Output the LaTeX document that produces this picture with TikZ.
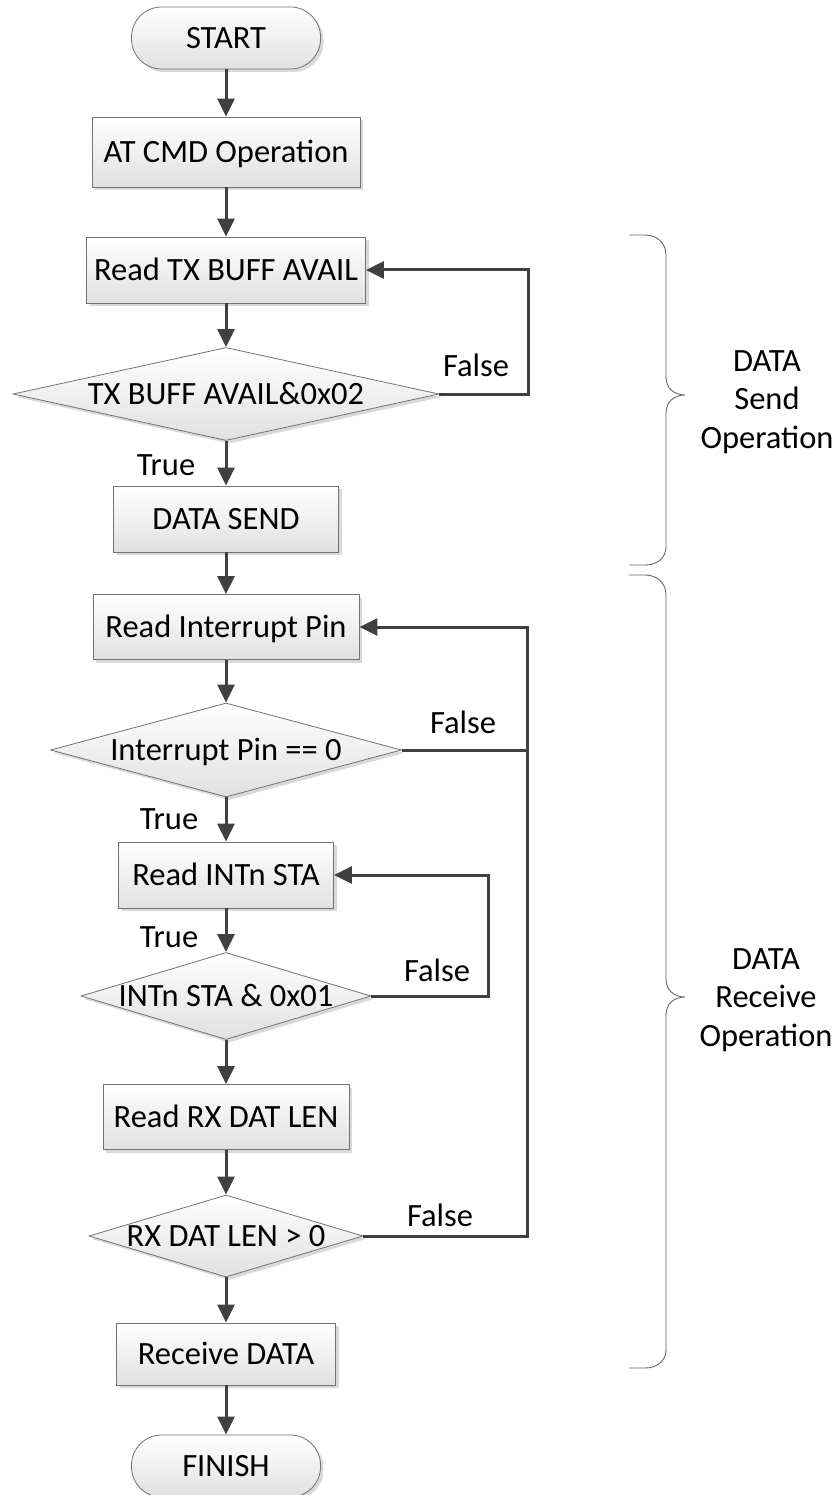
\documentclass[tikz,border=0pt]{standalone}
\usepackage{fontspec}
\setmainfont{Carlito}
\usetikzlibrary{positioning, arrows.meta, shapes.geometric, shadows}

\begin{document}
\begin{tikzpicture}[
  x=1pt, y=-1pt,
  every node/.style={font=\fontsize{32.5}{38.5}\selectfont, align=center},
  base/.style={draw=black!55, line width=0.8pt, top color=white, bottom color=black!12,
    drop shadow={shadow xshift=3pt, shadow yshift=-3pt, fill=black!15, opacity=1},
    text height=25pt, text depth=4pt, inner sep=0pt},
  term/.style={base, rectangle, rounded corners=30pt, minimum width=189pt, minimum height=62pt},
  proc/.style={base, rectangle, minimum height=66pt},
  decision/.style={base, diamond, aspect=3},
  tag/.style={inner sep=0pt},
  flow/.style={draw=black!75, line width=3pt},
  bracket/.style={draw=black!60, line width=0.9pt},
  >={Triangle[length=18pt, width=17pt]}
]
\useasboundingbox (0,0) rectangle (835,1495);

% main column
\node[term] (start) at (226,38) {START};
\node[proc, minimum width=268pt, minimum height=70pt] (atcmd) at (226,152) {AT CMD Operation};
\node[proc, minimum width=279pt] (readtx) at (226,270) {Read TX BUFF AVAIL};
\node[decision, minimum width=426pt, minimum height=93pt] (txchk) at (226,394) {\makebox[0pt]{TX BUFF AVAIL\&0x02}};
\node[proc, minimum width=225pt] (datasend) at (226,519) {DATA SEND};
\node[proc, minimum width=266pt, minimum height=65pt] (readint) at (226,627) {Read Interrupt Pin};
\node[decision, minimum width=351pt, minimum height=94pt] (intchk) at (226,750) {\makebox[0pt]{Interrupt Pin == 0}};
\node[proc, minimum width=215pt] (readsta) at (226,875) {Read INTn STA};
\node[decision, minimum width=290pt, minimum height=87pt] (stachk) at (226,996) {\makebox[0pt]{INTn STA \& 0x01}};
\node[proc, minimum width=246pt, minimum height=65pt] (readlen) at (226,1117) {Read RX DAT LEN};
\node[decision, minimum width=274pt, minimum height=82pt] (lenchk) at (226,1236) {\makebox[0pt]{RX DAT LEN > 0}};
\node[proc, minimum width=219pt, minimum height=62pt] (recv) at (226,1354) {Receive DATA};
\node[term] (finish) at (226,1466) {FINISH};

% branch labels
\node[tag] (false1) at (476,365) {False};
\node[tag] (true1) at (166,465) {True};
\node[tag] (false2) at (463,722) {False};
\node[tag] (true2) at (169,819) {True};
\node[tag] (true3) at (169,937) {True};
\node[tag] (false3) at (437,970) {False};
\node[tag] (false4) at (440,1215) {False};

% straight flow
\draw[flow,->] (start) -- (atcmd);
\draw[flow,->] (atcmd) -- (readtx);
\draw[flow,->] (readtx) -- (txchk);
\draw[flow,->] (txchk) -- (datasend);
\draw[flow,->] (datasend) -- (readint);
\draw[flow,->] (readint) -- (intchk);
\draw[flow,->] (intchk) -- (readsta);
\draw[flow,->] (readsta) -- (stachk);
\draw[flow,->] (stachk) -- (readlen);
\draw[flow,->] (readlen) -- (lenchk);
\draw[flow,->] (lenchk) -- (recv);
\draw[flow,->] (recv) -- (finish);

% loops back
\coordinate (txbus) at (528,0);
\coordinate (rxbus) at (527,0);
\coordinate (stabus) at (488,0);
\draw[flow,->] (txchk.east) -- (txchk.east -| txbus) |- (readtx.east);
\draw[flow,->] (lenchk.east) -- (lenchk.east -| rxbus) |- (readint.east);
\draw[flow] (intchk.east) -- (intchk.east -| rxbus);
\draw[flow,->] (stachk.east) -- (stachk.east -| stabus) |- (readsta.east);

% braces
\draw[bracket] (629,235) -- (645,235) .. controls (657,235) and (666,243) .. (666,255)
  -- (666,377) .. controls (666,388) and (674,395) .. (685,395)
  .. controls (674,395) and (666,402) .. (666,413)
  -- (666,547) .. controls (666,558) and (657,565) .. (645,565) -- (629,565);
\node (sendlbl) at (767,402) {DATA\\Send\\Operation};

\draw[bracket] (629,575) -- (645,575) .. controls (657,575) and (666,583) .. (666,595)
  -- (666,979) .. controls (666,990) and (674,997) .. (685,997)
  .. controls (674,997) and (666,1004) .. (666,1015)
  -- (666,1350) .. controls (666,1361) and (657,1368) .. (645,1368) -- (629,1368);
\node (recvlbl) at (766,1000) {DATA\\Receive\\Operation};

\end{tikzpicture}
\end{document}
